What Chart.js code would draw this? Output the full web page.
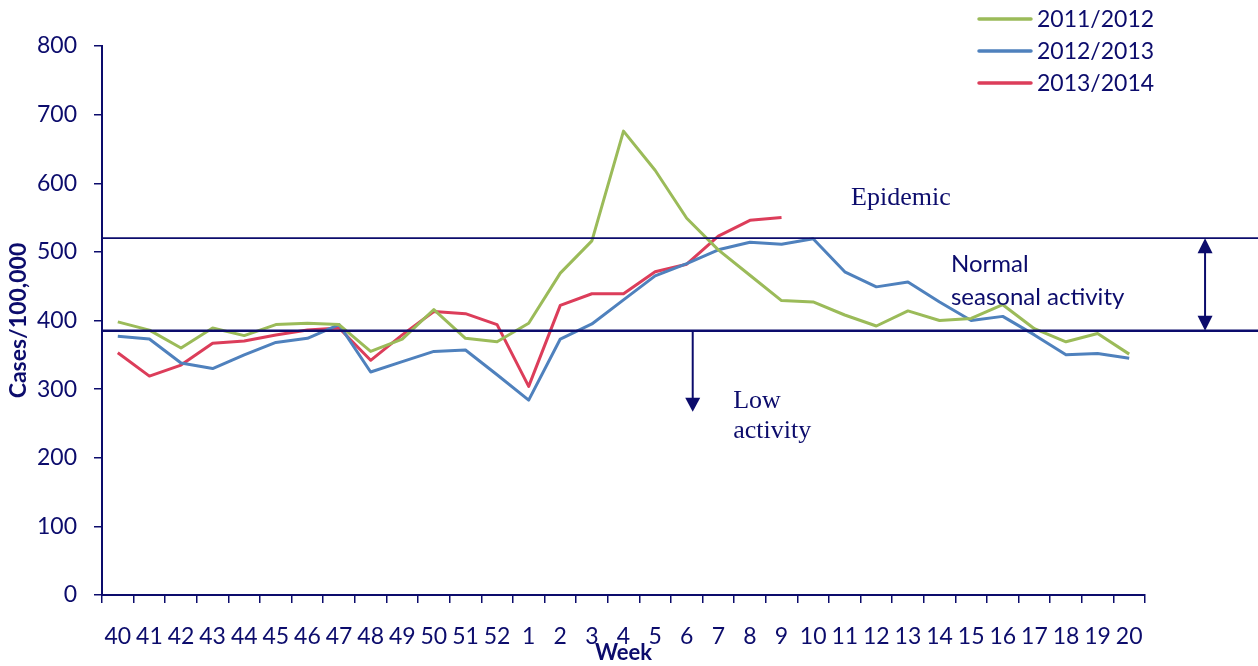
<!DOCTYPE html>
<html>
<head>
<meta charset="utf-8">
<script src="https://cdn.jsdelivr.net/npm/chart.js@4.4.0/dist/chart.umd.min.js"></script>
<style>
  html, body { margin: 0; padding: 0; background: #fff; }
  #wrap { width: 1258px; height: 666px; }
</style>
</head>
<body>
<div id="wrap"><canvas id="fluChart"></canvas></div>
<script>
// Weeks of the season, 40 -> 20
var weeks = ['40', '41', '42', '43', '44', '45', '46', '47', '48', '49', '50', '51', '52',
             '1', '2', '3', '4', '5', '6', '7', '8', '9', '10', '11', '12', '13', '14',
             '15', '16', '17', '18', '19', '20'];

var season1112 = [398, 386, 360, 389, 378, 394, 396, 394, 355, 373, 416, 374, 369,
                  396, 469, 516, 676, 619, 549, 503, 466, 429, 427, 408, 392, 414, 400,
                  403, 423, 388, 369, 381, 351];
var season1213 = [377, 373, 338, 330, 350, 368, 374, 394, 325, 340, 355, 357, 321,
                  284, 373, 395, 430, 465, 483, 503, 514, 511, 519, 471, 449, 456, 427,
                  400, 406, 379, 350, 352, 345];
var season1314 = [353, 319, 335, 367, 370, 379, 386, 389, 342, 379, 413, 410, 394,
                  304, 422, 439, 439, 471, 482, 523, 546, 550, null, null, null, null, null,
                  null, null, null, null, null, null];

var seasonLabels = ['2011/2012', '2012/2013', '2013/2014'];
var yTicks = [0, 100, 200, 300, 400, 500, 600, 700, 800];

// thresholds (cases/100,000)
var epidemicThreshold = 520;
var baselineThreshold = 385;

var NAVY = '#0c0c6c';
var COLORS = ['#9bbb59', '#4f81bd', '#dc3d5a'];

Chart.defaults.font.family = 'Lato, "Open Sans", sans-serif';
Chart.defaults.color = NAVY;

function arrowHead(ctx, x, y, dir, w, h) {
    ctx.beginPath();
    ctx.moveTo(x, y);
    ctx.lineTo(x - w / 2, y - dir * h);
    ctx.lineTo(x + w / 2, y - dir * h);
    ctx.closePath();
    ctx.fill();
}

// threshold lines, arrows and text labels
var annotations = {
    id: 'annotations',
    afterDatasetsDraw: function(chart) {
        var ctx = chart.ctx;
        var xs = chart.scales.x, ys = chart.scales.y;
        var left = chart.chartArea.left;
        var yEp = ys.getPixelForValue(epidemicThreshold);
        var yBase = ys.getPixelForValue(baselineThreshold);

        ctx.save();
        ctx.strokeStyle = NAVY;
        ctx.fillStyle = NAVY;

        ctx.lineWidth = 1.6;
        ctx.beginPath();
        ctx.moveTo(left, yEp);
        ctx.lineTo(chart.width, yEp);
        ctx.stroke();

        ctx.lineWidth = 2.4;
        ctx.beginPath();
        ctx.moveTo(left, yBase);
        ctx.lineTo(chart.width, yBase);
        ctx.stroke();

        // down arrow, low activity
        var xa = xs.getPixelForValue(18.19);
        var yTip = ys.getPixelForValue(267);
        ctx.lineWidth = 2;
        ctx.beginPath();
        ctx.moveTo(xa, yBase);
        ctx.lineTo(xa, yTip - 12);
        ctx.stroke();
        arrowHead(ctx, xa, yTip, 1, 15, 14);

        // double arrow, normal seasonal range
        var xd = xs.getPixelForValue(34.4);
        ctx.beginPath();
        ctx.moveTo(xd, yEp + 12);
        ctx.lineTo(xd, yBase - 12);
        ctx.stroke();
        arrowHead(ctx, xd, yEp, -1, 15, 15);
        arrowHead(ctx, xd, yBase, 1, 15, 15);

        ctx.textBaseline = 'alphabetic';
        ctx.textAlign = 'left';
        ctx.font = '26px "Liberation Serif", serif';
        ctx.fillText('Epidemic', xs.getPixelForValue(23.2), ys.getPixelForValue(568));
        ctx.fillText('Low', xs.getPixelForValue(19.47), ys.getPixelForValue(272));
        ctx.fillText('activity', xs.getPixelForValue(19.47), ys.getPixelForValue(229));

        ctx.font = '24px Lato, sans-serif';
        ctx.fillText('Normal', xs.getPixelForValue(26.36), ys.getPixelForValue(471));
        ctx.fillText('seasonal activity', xs.getPixelForValue(26.36), ys.getPixelForValue(423));

        // legend
        ctx.lineWidth = 3.5;
        ctx.lineCap = 'round';
        ctx.textBaseline = 'middle';
        ctx.font = '23px Lato, sans-serif';
        chart.data.datasets.forEach(function(ds, i) {
            var ly = 19 + i * 32;
            ctx.strokeStyle = ds.borderColor;
            ctx.beginPath();
            ctx.moveTo(979, ly);
            ctx.lineTo(1031, ly);
            ctx.stroke();
            ctx.fillStyle = NAVY;
            ctx.fillText(ds.label, 1037, ly + 1);
        });
        ctx.restore();
    }
};

var chart = new Chart(document.getElementById('fluChart'), {
    type: 'line',
    data: {
        labels: weeks,
        datasets: [
            { label: seasonLabels[0], data: season1112, borderColor: COLORS[0] },
            { label: seasonLabels[1], data: season1213, borderColor: COLORS[1] },
            { label: seasonLabels[2], data: season1314, borderColor: COLORS[2] }
        ]
    },
    options: {
        responsive: true,
        maintainAspectRatio: false,
        animation: false,
        layout: { padding: { top: 46, right: 113, left: 0, bottom: 0 } },
        elements: {
            line: { borderWidth: 3, tension: 0, borderJoinStyle: 'round', spanGaps: false },
            point: { radius: 0, hoverRadius: 0 }
        },
        plugins: {
            legend: { display: false },
            tooltip: { enabled: false }
        },
        scales: {
            x: {
                offset: true,
                grid: { offset: true, drawOnChartArea: false, drawTicks: true, tickLength: 8, color: NAVY, lineWidth: 1.5 },
                border: { color: NAVY, width: 2 },
                ticks: { autoSkip: false, maxRotation: 0, minRotation: 0, padding: 20, font: { size: 23 }, color: NAVY },
                title: { display: true, text: 'Week', font: { size: 22, weight: 'bold' }, color: NAVY, padding: { top: 0, bottom: 0 } },
                afterFit: function(scale) { scale.height = 71; }
            },
            y: {
                min: 0,
                max: 800,
                afterBuildTicks: function(scale) {
                    scale.ticks = yTicks.map(function(v) { return { value: v }; });
                },
                grid: { drawOnChartArea: false, drawTicks: true, tickLength: 8, color: NAVY, lineWidth: 1.5 },
                border: { color: NAVY, width: 2 },
                ticks: { padding: 17, font: { size: 23 }, color: NAVY },
                title: { display: true, text: 'Cases/100,000', font: { size: 23, weight: 'bold' }, color: NAVY, padding: { top: 5, bottom: 0 } },
                afterFit: function(scale) { scale.width = 102; }
            }
        }
    },
    plugins: [annotations]
});
</script>
</body>
</html>
